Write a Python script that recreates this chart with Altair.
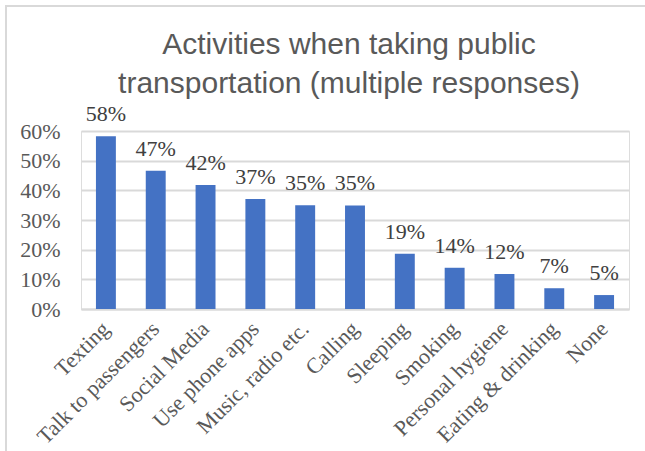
import altair as alt
import pandas as pd

categories = ["Texting", "Talk to passengers", "Social Media", "Use phone apps",
              "Music, radio etc.", "Calling", "Sleeping", "Smoking",
              "Personal hygiene", "Eating & drinking", "None"]
values = [58.2, 46.6, 41.8, 37.1, 35.0, 34.9, 18.6, 13.9, 11.8, 7.0, 4.7]
labels = ["58%", "47%", "42%", "37%", "35%", "35%", "19%", "14%", "12%", "7%", "5%"]
y_ticks = [0, 10, 20, 30, 40, 50, 60]

df = pd.DataFrame({"cat": categories, "val": values, "lab": labels})

W, H = 548, 178
SERIF = "Times New Roman"

x_enc = alt.X("cat:N", sort=categories, title=None,
              scale=alt.Scale(paddingInner=0.6, paddingOuter=0.3),
              axis=alt.Axis(labelAngle=-45, labelFont=SERIF, labelFontSize=22,
                            labelColor="#595959", domain=True, domainColor="#d9d9d9",
                            domainWidth=2, ticks=False, labelPadding=16,
                            labelBaseline="middle", labelAlign="right",
                            labelOverlap=False, labelLimit=300, grid=False))
y_enc = alt.Y("val:Q", title=None,
              scale=alt.Scale(domain=[0, 60], nice=False),
              axis=alt.Axis(values=y_ticks, labelExpr="datum.value + '%'",
                            labelFont=SERIF, labelFontSize=22, labelColor="#595959",
                            labelOverlap=False, domain=False, ticks=False, labelPadding=21,
                            grid=True, gridColor="#d9d9d9", gridWidth=2))

base = alt.Chart(df).encode(x=x_enc, y=y_enc)
bars = base.mark_bar(color="#4472C4")
text = base.mark_text(font=SERIF, fontSize=22, color="#404040",
                      baseline="alphabetic", dy=-15).encode(text="lab:N")

frame_left = alt.Chart(df).mark_rule(color="#d9d9d9", strokeWidth=2, clip=False).encode(
    x=alt.value(-75), y=alt.value(-125), y2=alt.value(H + 160))
frame_top = alt.Chart(df).mark_rule(color="#d9d9d9", strokeWidth=2, clip=False).encode(
    x=alt.value(-76), x2=alt.value(W + 40), y=alt.value(-125))

chart = alt.layer(frame_left, frame_top, bars, text).properties(
    width=W, height=H,
    title=alt.TitleParams(["Activities when taking public", "transportation (multiple responses)"],
                          font="Liberation Sans", fontSize=30, fontWeight="normal",
                          color="#595959", lineHeight=39, anchor="middle", offset=0,
                          dy=94, dx=-6),
    autosize=alt.AutoSizeParams(type="none"),
    padding={"left": 81, "top": 131, "right": 16, "bottom": 142},
).configure_view(stroke=None).configure(background="white")

chart.save("out.html", embed_options={"renderer": "svg", "actions": False})
